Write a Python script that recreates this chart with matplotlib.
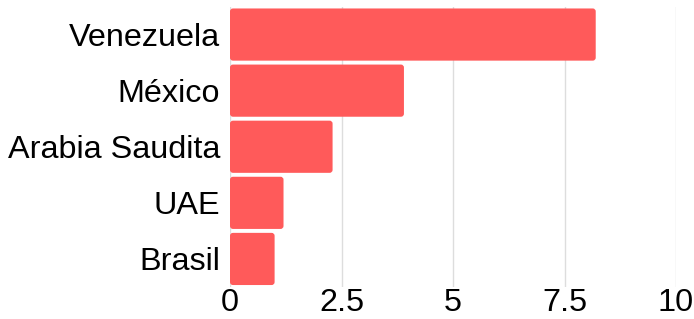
import matplotlib
matplotlib.use("Agg")
import matplotlib.pyplot as plt
from matplotlib.patches import FancyBboxPatch

plt.rcParams['font.family'] = ['Liberation Sans', 'DejaVu Sans']

countries = ["Venezuela", "México", "Arabia Saudita", "UAE", "Brasil"]
values = [8.2, 3.9, 2.3, 1.2, 1.0]
xticks = [0, 2.5, 5, 7.5, 10]
xticklabels = ["0", "2.5", "5", "7.5", "10"]
bar_color = "#FF5A5A"

fig = plt.figure(figsize=(6.94, 3.19), dpi=100)
ax = fig.add_axes([230/694, 1 - 287/319, (676-230)/694, (287-6.5)/319])

bars = ax.barh(range(len(countries)), values, height=0.93, color=bar_color)
ax.set_xlim(0, 10)
ax.set_ylim(len(countries) - 0.5, -0.5)

# rounded corners
px_x = 446 / 10.0
px_y = 280.5 / 5.0
r_px = 3.0
for b in bars:
    x, y = b.get_x(), b.get_y()
    w, h = b.get_width(), b.get_height()
    b.set_visible(False)
    p = FancyBboxPatch((x, y), w, h,
                       boxstyle=f"round,pad=0,rounding_size={r_px/px_x}",
                       mutation_aspect=(px_x/px_y),
                       facecolor=bar_color, edgecolor="none", zorder=2)
    ax.add_patch(p)

ax.set_yticks(range(len(countries)))
ax.set_yticklabels(countries, fontsize=23.3)
ax.set_xticks(xticks)
ax.set_xticklabels(xticklabels, fontsize=23.3)
ax.tick_params(axis='both', length=0)
ax.tick_params(axis='y', pad=7)
ax.tick_params(axis='x', pad=1)
ax.grid(axis='x', color='#dddddd', linewidth=1, zorder=0)
ax.set_axisbelow(True)
for s in ax.spines.values():
    s.set_visible(False)

fig.savefig("out.png", dpi=100)
